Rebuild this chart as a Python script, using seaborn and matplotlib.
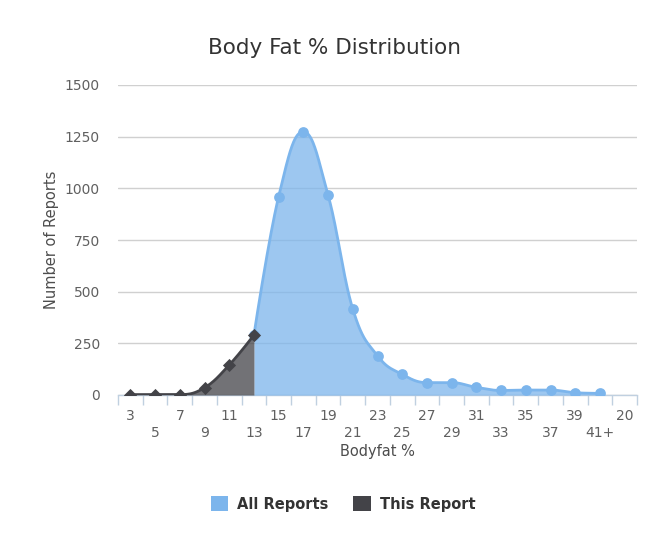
import numpy as np
import pandas as pd
import matplotlib
matplotlib.use("Agg")
import matplotlib.pyplot as plt
from matplotlib.patches import Patch
import seaborn as sns

categories = ["3", "5", "7", "9", "11", "13", "15", "17", "19", "21", "23",
              "25", "27", "29", "31", "33", "35", "37", "39", "41+", "20"]
all_cats = ["13", "15", "17", "19", "21", "23", "25", "27", "29", "31",
            "33", "35", "37", "39", "41+"]
all_values = [290, 960, 1274, 967, 416, 190, 100, 60, 60, 37, 22, 24, 24, 11, 8]
this_cats = ["3", "5", "7", "9", "11", "13"]
this_values = [2, 2, 2, 35, 145, 290]
y_ticks = [0, 250, 500, 750, 1000, 1250, 1500]

BLUE = "#7cb5ec"
DARK = "#434348"


def hc_spline(xs, ys, n=40, smoothing=1.5):
    xs = np.asarray(xs, float)
    ys = np.asarray(ys, float)
    m = len(xs)
    lc = [(xs[i], ys[i]) for i in range(m)]
    rc = [(xs[i], ys[i]) for i in range(m)]
    d = smoothing + 1
    for i in range(1, m - 1):
        px, py = xs[i], ys[i]
        lx, ly = xs[i - 1], ys[i - 1]
        nx, ny = xs[i + 1], ys[i + 1]
        lcx = (smoothing * px + lx) / d
        lcy = (smoothing * py + ly) / d
        rcx = (smoothing * px + nx) / d
        rcy = (smoothing * py + ny) / d
        if rcx != lcx:
            corr = ((rcy - lcy) * (rcx - px)) / (rcx - lcx) + py - rcy
            lcy += corr
            rcy += corr
        if lcy > ly and lcy > py:
            lcy = max(ly, py)
            rcy = 2 * py - lcy
        elif lcy < ly and lcy < py:
            lcy = min(ly, py)
            rcy = 2 * py - lcy
        if rcy > ny and rcy > py:
            rcy = max(ny, py)
            lcy = 2 * py - rcy
        elif rcy < ny and rcy < py:
            rcy = min(ny, py)
            lcy = 2 * py - rcy
        lc[i] = (lcx, lcy)
        rc[i] = (rcx, rcy)
    outx, outy = [xs[0]], [ys[0]]
    t = np.linspace(0, 1, n)[1:]
    for i in range(1, m):
        p0 = np.array([xs[i - 1], ys[i - 1]])
        p1 = np.array(rc[i - 1])
        p2 = np.array(lc[i])
        p3 = np.array([xs[i], ys[i]])
        b = ((1 - t) ** 3)[:, None] * p0 + (3 * (1 - t) ** 2 * t)[:, None] * p1 \
            + (3 * (1 - t) * t ** 2)[:, None] * p2 + (t ** 3)[:, None] * p3
        outx.extend(b[:, 0])
        outy.extend(b[:, 1])
    return np.array(outx), np.array(outy)


sns.set_style("white")
plt.rcParams["font.family"] = ["DejaVu Sans"]

fig = plt.figure(figsize=(6.5, 5.34), dpi=100)
ax = fig.add_axes([118 / 650, 1 - 395 / 534, (637 - 118) / 650, (395 - 85) / 534])

pos = {c: i for i, c in enumerate(categories)}
df_all = pd.DataFrame({"x": [pos[c] for c in all_cats], "y": all_values})
df_this = pd.DataFrame({"x": [pos[c] for c in this_cats], "y": this_values})

# All reports
sx, sy = hc_spline(df_all["x"], df_all["y"])
ax.fill_between(sx, 0, sy, color=BLUE, alpha=0.75, linewidth=0, zorder=2)
sns.lineplot(x=sx, y=sy, ax=ax, color=BLUE, linewidth=2, sort=False, zorder=3)
sns.scatterplot(data=df_all, x="x", y="y", ax=ax, color=BLUE, s=60,
                edgecolor=BLUE, linewidth=0, zorder=4)

# This report
tx, ty = hc_spline(df_this["x"], df_this["y"])
ax.fill_between(tx, 0, ty, color=DARK, alpha=0.75, linewidth=0, zorder=5)
sns.lineplot(x=tx, y=ty, ax=ax, color=DARK, linewidth=2, sort=False, zorder=6)
sns.scatterplot(data=df_this, x="x", y="y", ax=ax, color=DARK, s=45, marker="D",
                edgecolor=DARK, linewidth=0, zorder=7)

ax.set_xlim(-0.5, len(categories) - 0.5)
ax.set_ylim(0, 1500)
ax.set_yticks(y_ticks)
ax.set_yticklabels([str(v) for v in y_ticks], color="#606060", fontsize=10)
ax.grid(axis="y", color="#d0d0d0", linewidth=1)
ax.set_axisbelow(True)

ax.set_xticks(range(len(categories)))
ax.set_xticklabels([c if i % 2 == 0 else "\n" + c for i, c in enumerate(categories)],
                   color="#606060", fontsize=10, linespacing=1.25)
ax.set_xticks(np.arange(-0.5, len(categories)), minor=True)
ax.tick_params(axis="x", which="major", length=0, pad=10)
ax.tick_params(axis="x", which="minor", length=7.5, color="#c0d0e0", width=1, direction="out")
ax.tick_params(axis="y", length=0, pad=13)
ax.xaxis.set_ticks_position("bottom")

for s in ["top", "right", "left"]:
    ax.spines[s].set_visible(False)
ax.spines["bottom"].set_color("#c0d0e0")
ax.spines["bottom"].set_linewidth(1)
ax.spines["bottom"].set_zorder(1)

ax.set_xlabel("Bodyfat %", color="#4d4d4d", fontsize=10.5, labelpad=3)
ax.set_ylabel("Number of Reports", color="#4d4d4d", fontsize=10.5, labelpad=4)

fig.text(335 / 650, 1 - 48 / 534, "Body Fat % Distribution", ha="center", va="center",
         fontsize=15.5, color="#333333")

handles = [Patch(facecolor=BLUE, edgecolor="none", label="All Reports"),
           Patch(facecolor=DARK, edgecolor="none", label="This Report")]
fig.legend(handles=handles, loc="center", bbox_to_anchor=(343 / 650, 1 - 504 / 534),
           ncol=2, frameon=False, handlelength=1.2, handleheight=1.2,
           handletextpad=0.6, columnspacing=1.7,
           prop={"weight": "bold", "size": 10.5}, labelcolor="#333333")

fig.savefig("out.png", dpi=100)
